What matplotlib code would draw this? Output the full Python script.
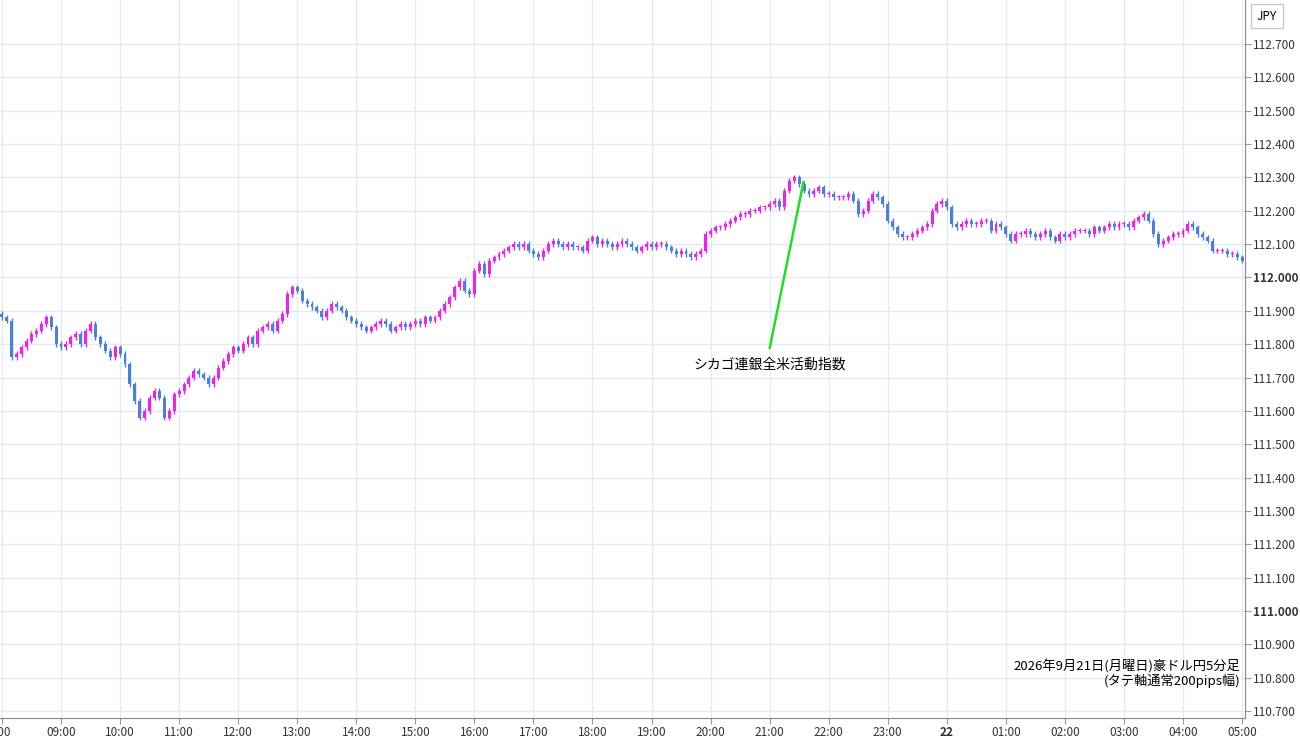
import matplotlib
matplotlib.use("Agg")
import matplotlib.pyplot as plt
import numpy as np

plt.rcParams['font.family'] = ['Noto Sans CJK JP', 'DejaVu Sans']

closes = [
111.88,111.87,111.76,111.77,111.79,111.81,111.83,111.84,111.86,111.88,111.85,111.80,
111.79,111.80,111.82,111.83,111.80,111.84,111.86,111.82,111.80,111.78,111.76,111.79,
111.77,111.74,111.68,111.63,111.58,111.60,111.64,111.66,111.64,111.58,111.60,111.65,
111.66,111.68,111.70,111.72,111.71,111.70,111.68,111.70,111.73,111.75,111.77,111.79,
111.78,111.80,111.82,111.80,111.84,111.85,111.86,111.84,111.87,111.89,111.95,111.97,
111.96,111.93,111.92,111.91,111.90,111.88,111.90,111.92,111.91,111.90,111.88,111.87,
111.86,111.85,111.84,111.85,111.86,111.87,111.86,111.84,111.85,111.86,111.85,111.86,
111.87,111.86,111.88,111.87,111.88,111.90,111.92,111.94,111.97,111.99,111.96,111.95,
112.02,112.04,112.01,112.05,112.06,112.07,112.08,112.09,112.10,112.09,112.10,112.08,
112.07,112.06,112.08,112.10,112.11,112.10,112.09,112.10,112.09,112.09,112.08,112.11,
112.12,112.10,112.11,112.10,112.09,112.10,112.11,112.10,112.09,112.08,112.09,112.10,
112.09,112.10,112.10,112.09,112.08,112.07,112.08,112.07,112.06,112.07,112.08,112.13,
112.14,112.15,112.15,112.16,112.17,112.18,112.19,112.19,112.20,112.20,112.21,112.21,
112.22,112.23,112.21,112.26,112.29,112.30,112.28,112.26,112.25,112.26,112.27,112.25,
112.25,112.24,112.24,112.24,112.25,112.23,112.19,112.20,112.23,112.25,112.24,112.22,
112.17,112.15,112.13,112.12,112.12,112.13,112.14,112.15,112.16,112.20,112.22,112.23,
112.21,112.16,112.15,112.16,112.17,112.16,112.16,112.17,112.17,112.14,112.16,112.15,
112.13,112.11,112.13,112.13,112.14,112.13,112.12,112.13,112.14,112.12,112.11,112.13,
112.12,112.13,112.14,112.14,112.14,112.13,112.15,112.14,112.15,112.16,112.15,112.16,
112.16,112.15,112.17,112.18,112.19,112.17,112.13,112.10,112.11,112.12,112.13,112.13,
112.14,112.16,112.15,112.13,112.12,112.11,112.08,112.08,112.08,112.07,112.07,112.06,
112.05]
open0 = 111.89
hour_labels = [":00","09:00","10:00","11:00","12:00","13:00","14:00","15:00","16:00","17:00",
               "18:00","19:00","20:00","21:00","22:00","23:00","22","01:00","02:00","03:00",
               "04:00","05:00"]
yticks = [110.7,110.8,110.9,111.0,111.1,111.2,111.3,111.4,111.5,111.6,111.7,111.8,111.9,
          112.0,112.1,112.2,112.3,112.4,112.5,112.6,112.7]

UP, DN = '#ee22ee', '#4a7fdc'
fig = plt.figure(figsize=(13, 7.45), dpi=100)
ax = fig.add_axes([0, 27/745, 1245/1300, 718/745])
opens = [open0] + closes[:-1]
for i, (o, c) in enumerate(zip(opens, closes)):
    col = UP if c >= o else DN
    hi, lo = max(o, c) + 0.008, min(o, c) - 0.008
    ax.vlines(i, lo, hi, color=col, lw=1, zorder=3)
    h = max(abs(c - o), 0.003)
    ax.bar(i, h, bottom=min(o, c), width=0.6, color=col, zorder=3)

ax.set_xlim(-0.4, 252.6)
ax.set_ylim(110.679, 112.832)
ax.set_xticks(np.arange(0, 12*len(hour_labels), 12))
ax.set_xticklabels(hour_labels, fontsize=8.5, color='#333333')
for t, l in zip(ax.get_xticklabels(), hour_labels):
    if l == "22": t.set_fontweight('bold')
ax.set_yticks(yticks)
ax.yaxis.tick_right()
ax.set_yticklabels([f"{v:.3f}" for v in yticks], fontsize=8.5, color='#333333')
for t, v in zip(ax.get_yticklabels(), yticks):
    if abs(v - round(v)) < 1e-6: t.set_fontweight('bold')
ax.grid(True, color='#e4ebf0', lw=1)
ax.tick_params(length=4, color='#999999', pad=2)
for s in ['top', 'left']:
    ax.spines[s].set_visible(False)
ax.spines['right'].set_color('#888888')
ax.spines['bottom'].set_color('#888888')

ax.annotate("", xy=(163.0, 112.295), xytext=(155.9, 111.78),
            arrowprops=dict(arrowstyle='-', color='#22dd22', lw=1.8))
ax.text(156, 111.76, "シカゴ連銀全米活動指数", fontsize=10, ha='center', va='top')
ax.text(251.6, 110.77, "2026年9月21日(月曜日)豪ドル円5分足\n(タテ軸通常200pips幅)",
        fontsize=9.5, ha='right', va='bottom', linespacing=1.0)
fig.text(1267/1300, 1-16/745, "JPY", fontsize=8.5, ha='center', va='center',
         bbox=dict(boxstyle='square,pad=0.5', fc='white', ec='#cccccc'))
fig.savefig("out.png")
